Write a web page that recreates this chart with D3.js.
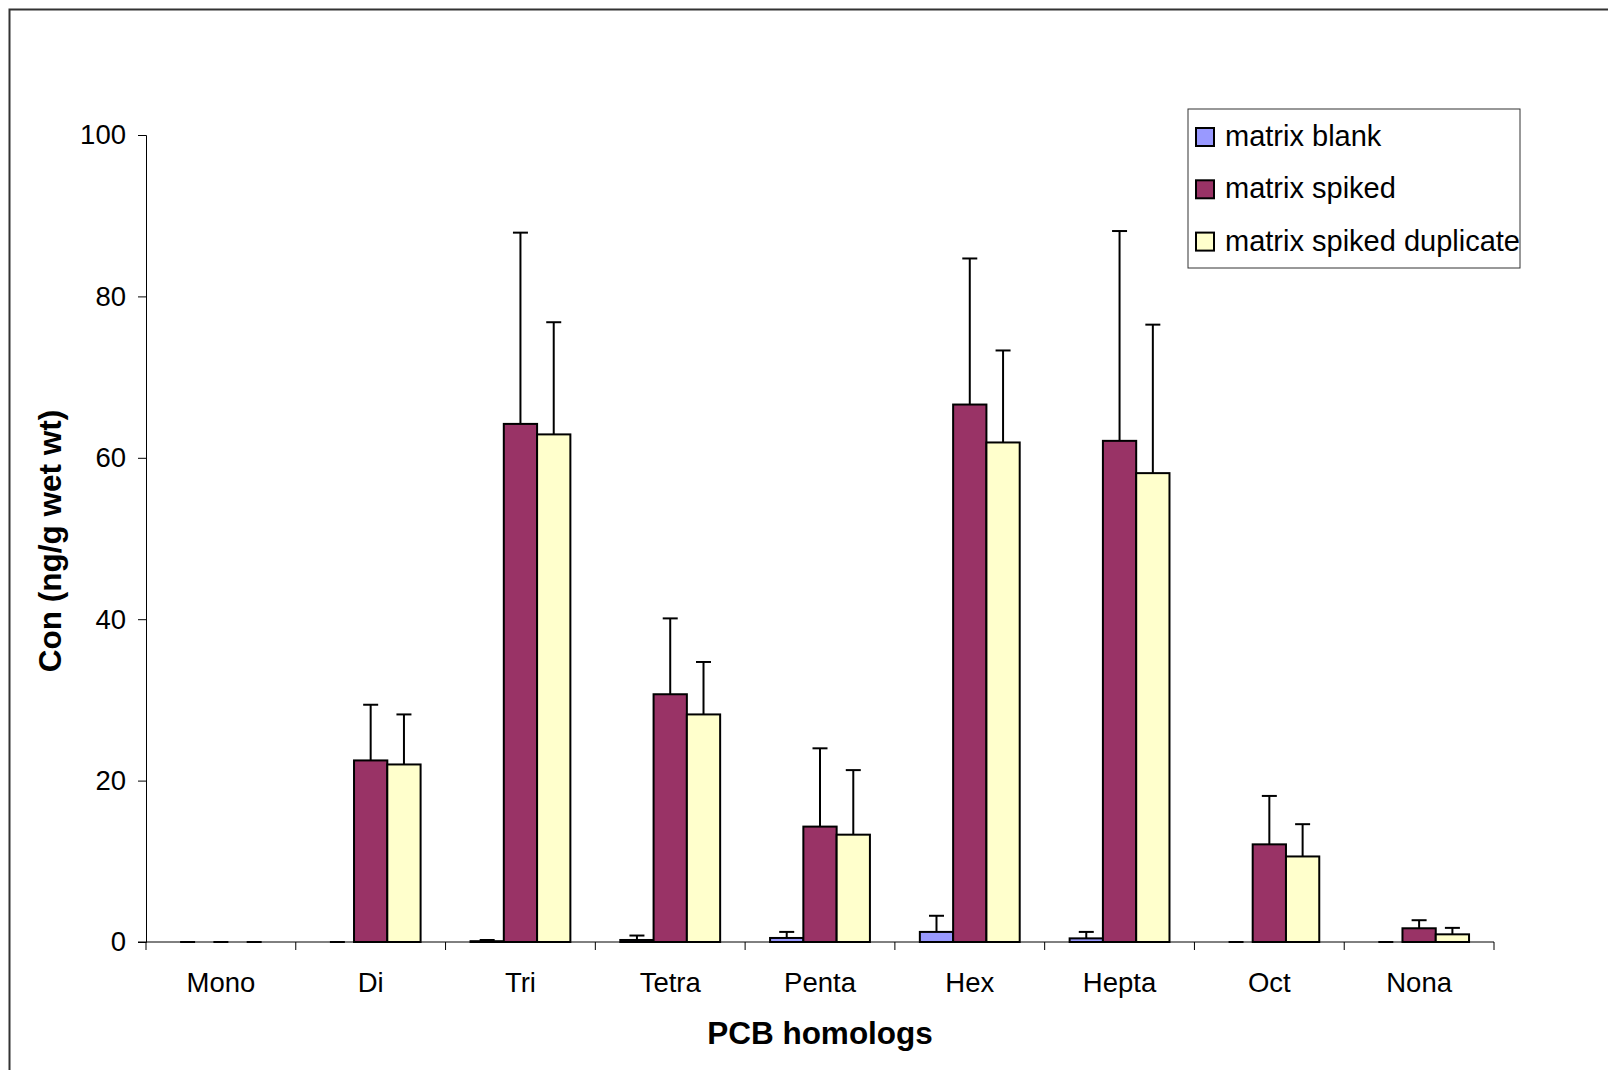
<!DOCTYPE html>
<html>
<head>
<meta charset="utf-8">
<script src="https://cdn.jsdelivr.net/npm/d3@7"></script>
<style>
  html, body { margin: 0; padding: 0; background: #fff; }
  svg { display: block; }
  text { font-family: "Liberation Sans", Arial, sans-serif; fill: #000; }
</style>
</head>
<body>
<svg id="chart" width="1608" height="1070"></svg>
<script>
// ---- data ----
const categories = ["Mono", "Di", "Tri", "Tetra", "Penta", "Hex", "Hepta", "Oct", "Nona"];
const seriesNames = ["matrix blank", "matrix spiked", "matrix spiked duplicate"];
const blankValues   = [0, 0, 0.1, 0.25, 0.5, 1.25, 0.45, 0, 0];
const blankErrors   = [0, 0, 0.15, 0.55, 0.75, 2.0, 0.8, 0, 0];
const spikedValues  = [0, 22.5, 64.2, 30.7, 14.3, 66.6, 62.1, 12.1, 1.7];
const spikedErrors  = [0, 6.9, 23.7, 9.4, 9.7, 18.1, 26.0, 6.0, 1.0];
const dupValues     = [0, 22.0, 62.9, 28.2, 13.3, 61.9, 58.1, 10.6, 0.95];
const dupErrors     = [0, 6.2, 13.9, 6.5, 8.0, 11.4, 18.4, 4.0, 0.8];
const yTicks = [0, 20, 40, 60, 80, 100];
const colors = ["#9999FF", "#993366", "#FFFFCC"];

const seriesValues = [blankValues, spikedValues, dupValues];
const seriesErrors = [blankErrors, spikedErrors, dupErrors];

// ---- layout ----
const svg = d3.select("#chart");
const plot = { left: 146, right: 1494, top: 135, bottom: 942 };

// outer frame
svg.append("rect")
  .attr("x", 9.5).attr("y", 9.5)
  .attr("width", 1620).attr("height", 1080)
  .attr("fill", "none").attr("stroke", "#333").attr("stroke-width", 2);

const x = d3.scaleBand().domain(categories).range([plot.left, plot.right]).padding(0);
const xInner = d3.scaleBand().domain(d3.range(seriesNames.length))
  .range([0, x.bandwidth()]).paddingOuter(0.75).paddingInner(0);
const y = d3.scaleLinear().domain([0, 100]).range([plot.bottom, plot.top]);

// y axis
const yAxis = svg.append("g")
  .attr("transform", `translate(${plot.left},0)`)
  .call(d3.axisLeft(y).tickValues(yTicks).tickSize(8).tickPadding(12));
yAxis.select(".domain").attr("stroke", "#000").attr("stroke-width", 1);
yAxis.selectAll(".tick line").attr("stroke", "#000");
yAxis.selectAll(".tick text").style("font-size", "27.5px").attr("fill", "#000");

// bars
const groups = svg.append("g").selectAll("g")
  .data(categories)
  .join("g")
  .attr("transform", d => `translate(${x(d)},0)`);

const barData = (c, i) => seriesValues.map((vals, s) => ({
  s, v: vals[i], e: seriesErrors[s][i]
}));

groups.each(function(c, i) {
  const g = d3.select(this);
  const data = barData(c, i);
  g.selectAll("rect.bar")
    .data(data.filter(d => d.v > 0))
    .join("rect")
    .attr("class", "bar")
    .attr("x", d => xInner(d.s))
    .attr("y", d => y(d.v))
    .attr("width", xInner.bandwidth())
    .attr("height", d => y(0) - y(d.v))
    .attr("fill", d => colors[d.s])
    .attr("stroke", "#000")
    .attr("stroke-width", 2);
  // error bars (upper)
  const capW = 15;
  g.selectAll("line.err")
    .data(data)
    .join("line")
    .attr("class", "err")
    .attr("x1", d => xInner(d.s) + xInner.bandwidth() / 2)
    .attr("x2", d => xInner(d.s) + xInner.bandwidth() / 2)
    .attr("y1", d => y(d.v))
    .attr("y2", d => y(d.v + d.e))
    .attr("stroke", "#000").attr("stroke-width", 2);
  g.selectAll("line.cap")
    .data(data)
    .join("line")
    .attr("class", "cap")
    .attr("x1", d => xInner(d.s) + xInner.bandwidth() / 2 - capW / 2)
    .attr("x2", d => xInner(d.s) + xInner.bandwidth() / 2 + capW / 2)
    .attr("y1", d => y(d.v + d.e))
    .attr("y2", d => y(d.v + d.e))
    .attr("stroke", "#000").attr("stroke-width", 2);
});

// x axis
const xAxisG = svg.append("g").attr("transform", `translate(0,${plot.bottom})`);
xAxisG.append("line")
  .attr("x1", plot.left - 8).attr("x2", plot.right)
  .attr("y1", 0).attr("y2", 0)
  .attr("stroke", "#000").attr("stroke-width", 1);
const boundaries = categories.map(c => x(c)).concat([x(categories[categories.length - 1]) + x.bandwidth()]);
xAxisG.selectAll("line.tick")
  .data(boundaries)
  .join("line")
  .attr("class", "tick")
  .attr("x1", d => d).attr("x2", d => d)
  .attr("y1", 0).attr("y2", 8)
  .attr("stroke", "#000").attr("stroke-width", 1);
xAxisG.selectAll("text")
  .data(categories)
  .join("text")
  .attr("x", d => x(d) + x.bandwidth() / 2)
  .attr("y", 50)
  .attr("text-anchor", "middle")
  .style("font-size", "27.5px")
  .text(d => d);

// axis titles
svg.append("text")
  .attr("x", (plot.left + plot.right) / 2)
  .attr("y", 1044)
  .attr("text-anchor", "middle")
  .style("font-size", "31.5px").style("font-weight", "bold")
  .text("PCB homologs");

svg.append("text")
  .attr("transform", `translate(61,541) rotate(-90)`)
  .attr("text-anchor", "middle")
  .style("font-size", "31.5px").style("font-weight", "bold")
  .text("Con (ng/g wet wt)");

// legend
const legend = svg.append("g").attr("transform", "translate(1188,109)");
legend.append("rect")
  .attr("x", 0).attr("y", 0).attr("width", 332).attr("height", 159)
  .attr("fill", "#fff").attr("stroke", "#333").attr("stroke-width", 1);
const items = legend.selectAll("g.item")
  .data(seriesNames)
  .join("g")
  .attr("class", "item")
  .attr("transform", (d, i) => `translate(0,${28 + i * 52.3})`);
items.append("rect")
  .attr("x", 8).attr("y", -9).attr("width", 18).attr("height", 18)
  .attr("fill", (d, i) => colors[i]).attr("stroke", "#000").attr("stroke-width", 2);
items.append("text")
  .attr("x", 37).attr("y", 9)
  .style("font-size", "29px")
  .text(d => d);
</script>
</body>
</html>
